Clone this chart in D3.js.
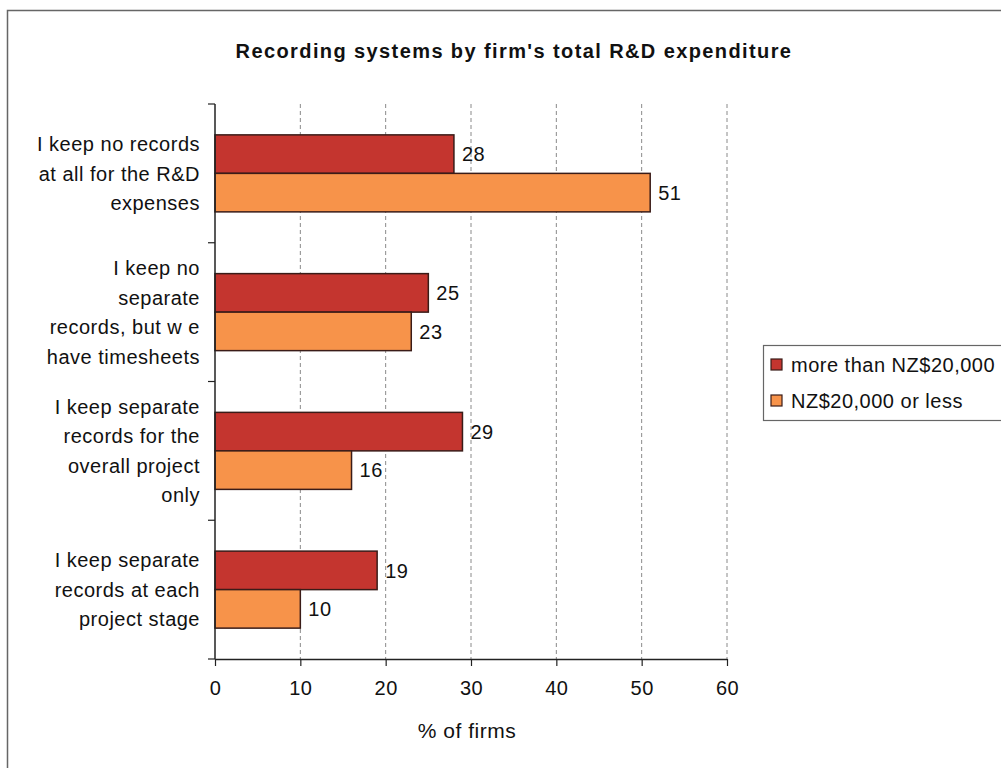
<!DOCTYPE html>
<html>
<head>
<meta charset="utf-8">
<script src="https://cdn.jsdelivr.net/npm/d3@7"></script>
<style>
  html, body { margin: 0; padding: 0; background: #fff; }
  svg { display: block; font-family: "Liberation Sans", Arial, sans-serif; }
</style>
</head>
<body>
<svg id="chart" width="1001" height="773"></svg>
<script>
// Survey answers (category labels split into display lines)
const categories = [
  ["I keep no records", "at all for the R&D", "expenses"],
  ["I keep no", "separate", "records, but w e", "have timesheets"],
  ["I keep separate", "records for the", "overall project", "only"],
  ["I keep separate", "records at each", "project stage"]
];
const seriesNames = ["more than NZ$20,000", "NZ$20,000 or less"];
const moreThan20k = [28, 25, 29, 19];
const lessOrEqual20k = [51, 23, 16, 10];
const xTicks = [0, 10, 20, 30, 40, 50, 60];

const colors = ["#c4352f", "#f7934a"];
const seriesValues = [moreThan20k, lessOrEqual20k];

const svg = d3.select("#chart");

// outer frame (left and top edges)
svg.append("path")
  .attr("d", "M7.5,768 L7.5,10.5 L1001,10.5")
  .attr("fill", "none").attr("stroke", "#666").attr("stroke-width", 1.5);

const plot = { left: 215, right: 727, top: 104, bottom: 659 };

const x = d3.scaleLinear().domain([0, 60]).range([plot.left, plot.right]);
const y = d3.scaleBand().domain(d3.range(categories.length))
  .range([plot.top, plot.bottom]).paddingInner(0.445).paddingOuter(0.2225);
const ySub = d3.scaleBand().domain([0, 1]).range([0, y.bandwidth()]);

// title
svg.append("text")
  .attr("x", 514).attr("y", 58)
  .attr("text-anchor", "middle")
  .attr("font-size", 20).attr("font-weight", "bold")
  .attr("letter-spacing", 1.4)
  .attr("fill", "#111")
  .text("Recording systems by firm's total R&D expenditure");

// dashed gridlines
svg.append("g").selectAll("line")
  .data(xTicks.filter(d => d > 0))
  .join("line")
  .attr("x1", d => x(d)).attr("x2", d => x(d))
  .attr("y1", plot.top).attr("y2", plot.bottom)
  .attr("stroke", "#8a8a8a").attr("stroke-width", 1)
  .attr("stroke-dasharray", "4,3");

// bars
const groups = svg.append("g").selectAll("g")
  .data(categories.map((c, i) => i))
  .join("g")
  .attr("transform", i => `translate(0,${y(i)})`);

groups.selectAll("rect")
  .data(i => seriesValues.map((s, k) => ({ k, v: s[i] })))
  .join("rect")
  .attr("x", x(0))
  .attr("y", d => ySub(d.k))
  .attr("width", d => x(d.v) - x(0))
  .attr("height", ySub.bandwidth())
  .attr("fill", d => colors[d.k])
  .attr("stroke", "#3a1c18").attr("stroke-width", 1.5);

groups.selectAll("text")
  .data(i => seriesValues.map((s, k) => ({ k, v: s[i] })))
  .join("text")
  .attr("x", d => x(d.v) + 8)
  .attr("y", d => ySub(d.k) + ySub.bandwidth() / 2)
  .attr("dy", "0.36em")
  .attr("font-size", 20).attr("letter-spacing", 0.5).attr("fill", "#111")
  .text(d => d.v);

// y axis with category boundary ticks
const yAxis = svg.append("g");
yAxis.append("line")
  .attr("x1", plot.left).attr("x2", plot.left)
  .attr("y1", plot.top).attr("y2", plot.bottom)
  .attr("stroke", "#222").attr("stroke-width", 1.5);
yAxis.selectAll("line.tick")
  .data(d3.range(categories.length + 1))
  .join("line").attr("class", "tick")
  .attr("x1", plot.left - 7).attr("x2", plot.left)
  .attr("y1", i => plot.top + i * (plot.bottom - plot.top) / categories.length)
  .attr("y2", i => plot.top + i * (plot.bottom - plot.top) / categories.length)
  .attr("stroke", "#222").attr("stroke-width", 1.2);

// category labels
const lineH = 29.5;
svg.append("g").selectAll("text")
  .data(categories.map((lines, i) => ({ lines, i })))
  .join("text")
  .attr("text-anchor", "end")
  .attr("font-size", 20).attr("letter-spacing", 0.5).attr("fill", "#111")
  .each(function (d) {
    const cy = y(d.i) + y.bandwidth() / 2;
    const start = cy - (d.lines.length - 1) * lineH / 2;
    d3.select(this).selectAll("tspan")
      .data(d.lines)
      .join("tspan")
      .attr("x", 200)
      .attr("y", (t, j) => start + j * lineH)
      .attr("dy", "0.36em")
      .text(t => t);
  });

// x axis
const xAxis = svg.append("g")
  .attr("transform", `translate(0,${plot.bottom})`)
  .call(d3.axisBottom(x).tickValues(xTicks).tickSize(7).tickPadding(15).tickSizeOuter(0));
xAxis.select(".domain").attr("stroke", "#222").attr("stroke-width", 1.5);
xAxis.selectAll(".tick line").attr("stroke", "#222").attr("stroke-width", 1.2);
xAxis.selectAll(".tick text")
  .attr("font-size", 20).attr("letter-spacing", 0.5).attr("fill", "#111")
  .attr("font-family", "Liberation Sans, Arial, sans-serif");

// axis title
svg.append("text")
  .attr("x", 467).attr("y", 738)
  .attr("text-anchor", "middle")
  .attr("font-size", 21).attr("letter-spacing", 0.5).attr("fill", "#111")
  .text("% of firms");

// legend
const legend = svg.append("g");
legend.append("rect")
  .attr("x", 763.5).attr("y", 345.5).attr("width", 260).attr("height", 75)
  .attr("fill", "#fff").attr("stroke", "#666").attr("stroke-width", 1.2);
const items = legend.selectAll("g.item")
  .data(seriesNames.map((n, k) => ({ n, k })))
  .join("g").attr("class", "item")
  .attr("transform", d => `translate(771,${365 + d.k * 36})`);
items.append("rect")
  .attr("x", 0).attr("y", -6).attr("width", 11).attr("height", 11)
  .attr("fill", d => colors[d.k]).attr("stroke", "#3a1c18").attr("stroke-width", 1.2);
items.append("text")
  .attr("x", 20).attr("y", 0).attr("dy", "0.36em")
  .attr("font-size", 20).attr("letter-spacing", 0.5).attr("fill", "#111")
  .text(d => d.n);
</script>
</body>
</html>
